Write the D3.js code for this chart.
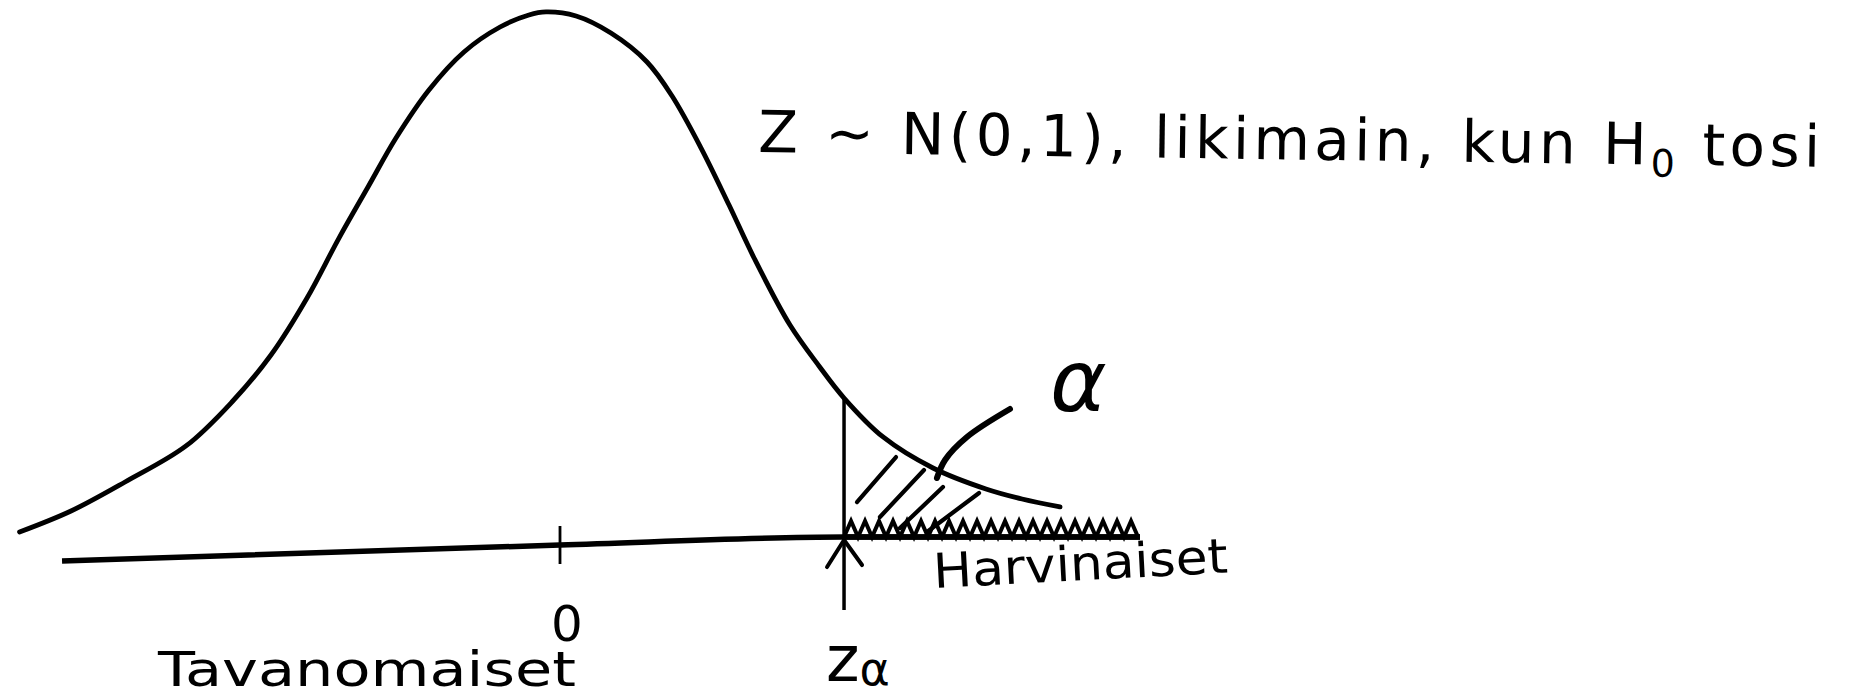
<!DOCTYPE html>
<html>
<head>
<meta charset="utf-8">
<script src="https://cdn.jsdelivr.net/npm/d3@7"></script>
<style>
  html, body { margin: 0; background: #ffffff; }
  svg { display: block; }
  text { font-family: "DejaVu Sans", sans-serif; fill: #000; }
</style>
</head>
<body>
<svg id="chart" width="1854" height="700"></svg>
<script>
// Hand-sketched density of Z (standard normal)
const curveZ = [-3.130, -2.832, -2.519, -2.166, -1.900, -1.674, -1.465, -1.280, -1.112, -0.950,
                -0.759, -0.556, -0.347, -0.180, -0.081, 0.093, 0.295, 0.504, 0.649, 0.817,
                0.979, 1.124, 1.332, 1.500, 1.645, 1.871, 2.160, 2.467, 2.676, 2.896];
const curveDensity = [0.0068, 0.0227, 0.0447, 0.0720, 0.1053, 0.1409, 0.1841, 0.2295, 0.2682, 0.3053,
                      0.3417, 0.3705, 0.3894, 0.3985, 0.4008, 0.3977, 0.3848, 0.3629, 0.3371, 0.2977,
                      0.2545, 0.2144, 0.1636, 0.1326, 0.1083, 0.0788, 0.0553, 0.0394, 0.0318, 0.0258];

// The horizontal axis as it was drawn (slightly rising to the right)
const axisZ = [-2.884, 0, 1.645, 3.359];
const axisLevel = [-0.0152, -0.0030, 0.0030, 0.0030];

// Tick on the axis and its label
const tickValues = [0];
const tickLabels = ["0"];

// Critical value and the end of the marked rejection region
const zAlpha = 1.645;
const zAlphaDensity = 0.1083;
const rejectionEnd = 3.359;

// Hatch strokes inside the tail area α: [z0, d0, z1, d1]
const hatchStrokes = [
  [1.720, 0.0295, 1.946, 0.0636],
  [1.853, 0.0182, 2.108, 0.0538],
  [1.969, 0.0098, 2.218, 0.0409],
  [2.125, 0.0068, 2.427, 0.0364]
];

// Pointer from the α label into the tail area
const pointerZ = [2.606, 2.357, 2.230, 2.183];
const pointerDensity = [0.1000, 0.0788, 0.0614, 0.0477];

// Texts
const headingMain = "Z ~ N(0,1), likimain, kun H";
const headingSub = "0";
const headingTail = " tosi";
const commonLabel = "Tavanomaiset";
const rareLabel = "Harvinaiset";
const alphaLabel = "α";

const svg = d3.select("#chart");

const x = d3.scaleLinear().domain([-3, 3]).range([42, 1078]);
const y = d3.scaleLinear().domain([0, 0.4]).range([541, 13]);

const ink = "#000";

// Bell curve
const curveData = curveZ.map((z, i) => ({ z, d: curveDensity[i] }));
const line = d3.line().x(p => x(p.z)).y(p => y(p.d)).curve(d3.curveCatmullRom.alpha(0.5));
svg.append("path")
  .datum(curveData)
  .attr("d", line)
  .attr("fill", "none")
  .attr("stroke", ink)
  .attr("stroke-width", 4.8)
  .attr("stroke-linecap", "round")
  .attr("stroke-linejoin", "round");

// Axis line
const axisData = axisZ.map((z, i) => ({ z, d: axisLevel[i] }));
svg.append("path")
  .datum(axisData)
  .attr("d", d3.line().x(p => x(p.z)).y(p => y(p.d)).curve(d3.curveMonotoneX))
  .attr("fill", "none")
  .attr("stroke", ink)
  .attr("stroke-width", 5.5)
  .attr("stroke-linecap", "butt");

// Tick at 0 and its label
tickValues.forEach((t, i) => {
  const tx = x(t);
  svg.append("line")
    .attr("x1", tx).attr("x2", tx)
    .attr("y1", 526).attr("y2", 564)
    .attr("stroke", ink).attr("stroke-width", 2.8);
  svg.append("text")
    .attr("x", tx + 7).attr("y", 641)
    .attr("text-anchor", "middle")
    .attr("font-size", 50)
    .text(tickLabels[i]);
});

// Vertical line at z_alpha from the curve down through the axis, with an arrow
const xa = x(zAlpha);
const axisAtAlpha = y(0.0030);
svg.append("line")
  .attr("x1", xa).attr("x2", xa)
  .attr("y1", y(zAlphaDensity)).attr("y2", 610)
  .attr("stroke", ink).attr("stroke-width", 3.5);
svg.append("path")
  .attr("d", `M${xa - 17},${axisAtAlpha + 30} L${xa},${axisAtAlpha + 3} L${xa + 18},${axisAtAlpha + 28}`)
  .attr("fill", "none")
  .attr("stroke", ink).attr("stroke-width", 4)
  .attr("stroke-linecap", "round").attr("stroke-linejoin", "round");

// Rejection region: saw-tooth marking along the axis
const x0 = xa, x1 = x(rejectionEnd);
const toothW = 14, toothH = 16;
let zig = `M${x0},${axisAtAlpha}`;
for (let px = x0; px + toothW <= x1 + 0.5; px += toothW) {
  zig += ` L${px + toothW / 2},${axisAtAlpha - toothH} L${px + toothW},${axisAtAlpha}`;
}
svg.append("path")
  .attr("d", zig)
  .attr("fill", "none")
  .attr("stroke", ink).attr("stroke-width", 4)
  .attr("stroke-linejoin", "miter");
svg.append("line")
  .attr("x1", x0).attr("x2", x1)
  .attr("y1", axisAtAlpha).attr("y2", axisAtAlpha)
  .attr("stroke", ink).attr("stroke-width", 5.5);

// Hatching of the tail area
svg.selectAll("line.hatch")
  .data(hatchStrokes)
  .join("line")
  .attr("class", "hatch")
  .attr("x1", s => x(s[0])).attr("y1", s => y(s[1]))
  .attr("x2", s => x(s[2])).attr("y2", s => y(s[3]))
  .attr("stroke", ink).attr("stroke-width", 4.2)
  .attr("stroke-linecap", "round");

// Pointer from α into the tail
const pointerData = pointerZ.map((z, i) => ({ z, d: pointerDensity[i] }));
svg.append("path")
  .datum(pointerData)
  .attr("d", d3.line().x(p => x(p.z)).y(p => y(p.d)).curve(d3.curveCatmullRom))
  .attr("fill", "none")
  .attr("stroke", ink).attr("stroke-width", 6)
  .attr("stroke-linecap", "round");

// α label
svg.append("text")
  .attr("x", 1050).attr("y", 411)
  .attr("font-size", 86)
  .attr("font-style", "italic")
  .text(alphaLabel);

// z_alpha label
const za = svg.append("text")
  .attr("x", 826).attr("y", 681)
  .attr("font-size", 64);
za.append("tspan").text("z");
za.append("tspan").attr("font-size", 46).attr("dy", 4).text("α");

// Region labels
svg.append("text")
  .attr("x", 158).attr("y", 686)
  .attr("font-size", 48)
  .attr("textLength", 418)
  .attr("lengthAdjust", "spacingAndGlyphs")
  .text(commonLabel);

svg.append("text")
  .attr("x", 934).attr("y", 588)
  .attr("font-size", 48)
  .attr("textLength", 295)
  .attr("lengthAdjust", "spacingAndGlyphs")
  .attr("transform", "rotate(-3 934 588)")
  .text(rareLabel);

// Heading: distribution of the test statistic under H0
const heading = svg.append("text")
  .attr("x", 758).attr("y", 152)
  .attr("font-size", 58)
  .attr("textLength", 1062)
  .attr("lengthAdjust", "spacing")
  .attr("transform", "rotate(0.8 758 152)");
heading.append("tspan").text(headingMain);
heading.append("tspan").attr("font-size", 38).attr("dy", 12).text(headingSub);
heading.append("tspan").attr("dy", -12).text(headingTail);
</script>
</body>
</html>
